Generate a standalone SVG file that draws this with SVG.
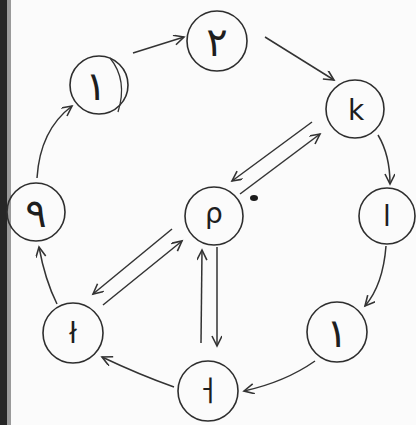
<svg xmlns="http://www.w3.org/2000/svg" width="416" height="425" viewBox="0 0 416 425">
<defs>
<style>
.n circle{fill:none;stroke:#2e2e2e;stroke-width:1.6}
.n text{font-family:"DejaVu Sans","Noto Sans CJK KR",sans-serif;font-size:28px;fill:#1e1e1e;text-anchor:middle;dominant-baseline:central}
.n text.fa{font-size:40px}
.c path{fill:none;stroke:#333;stroke-width:1.5;marker-end:url(#ah)}
</style>
<marker id="ah" markerUnits="userSpaceOnUse" markerWidth="14" markerHeight="12" refX="11" refY="5" orient="auto">
<path d="M1,0 L11,5 L1,10" fill="none" stroke="#333" stroke-width="1.6"/>
</marker>
</defs>
<rect width="416" height="425" fill="#fbfbfb"/>
<rect x="0" y="0" width="7" height="425" fill="#262626"/>
<rect x="7" y="0" width="4" height="425" fill="#9a9a9a"/>
<g class="c" id="connectors">
<path d="M37,178 Q40,130 72,106"/>
<path d="M133,53 L184,37"/>
<path d="M265,37 L334,80"/>
<path d="M378,135 Q390,155 390,184"/>
<path d="M386,246 Q383,285 365,306"/>
<path d="M315,361 Q285,382 244,391"/>
<path d="M174,387 Q140,375 102,357"/>
<path d="M57,304 Q45,280 39,247"/>
<path d="M312,122 L232,181"/>
<path d="M240,194 L320,134"/>
<path d="M172,229 L93,294"/>
<path d="M103,305 L182,241"/>
<path d="M201,343 L202,250"/>
<path d="M217,247 L217,346"/>
</g>
<ellipse cx="254" cy="198" rx="4" ry="3" fill="#1a1a1a"/>
<g class="n" id="n1"><circle cx="99" cy="85" r="29"/><path d="M110,58 Q128,80 118,112" fill="none" stroke="#333" stroke-width="1.3"/><text class="fa" x="96" y="86">۱</text></g>
<g class="n" id="n2"><circle cx="217" cy="41" r="30"/><text class="fa" x="217" y="42">۲</text></g>
<g class="n" id="n3"><circle cx="355" cy="109" r="29"/><text x="356" y="110">k</text></g>
<g class="n" id="n4"><circle cx="387" cy="216" r="28"/><text x="387" y="216">l</text></g>
<g class="n" id="n5"><circle cx="337" cy="332" r="30"/><text class="fa" x="337" y="333">۱</text></g>
<g class="n" id="n6"><circle cx="208" cy="391" r="30"/><text x="208" y="391">ㅓ</text></g>
<g class="n" id="n7"><circle cx="73" cy="333" r="30"/><text x="73" y="333">ł</text></g>
<g class="n" id="n8"><circle cx="36" cy="212" r="29"/><text class="fa" x="36" y="213">۹</text></g>
<g class="n" id="n0"><circle cx="214" cy="216" r="29"/><text x="214" y="213">ρ</text></g>
</svg>
